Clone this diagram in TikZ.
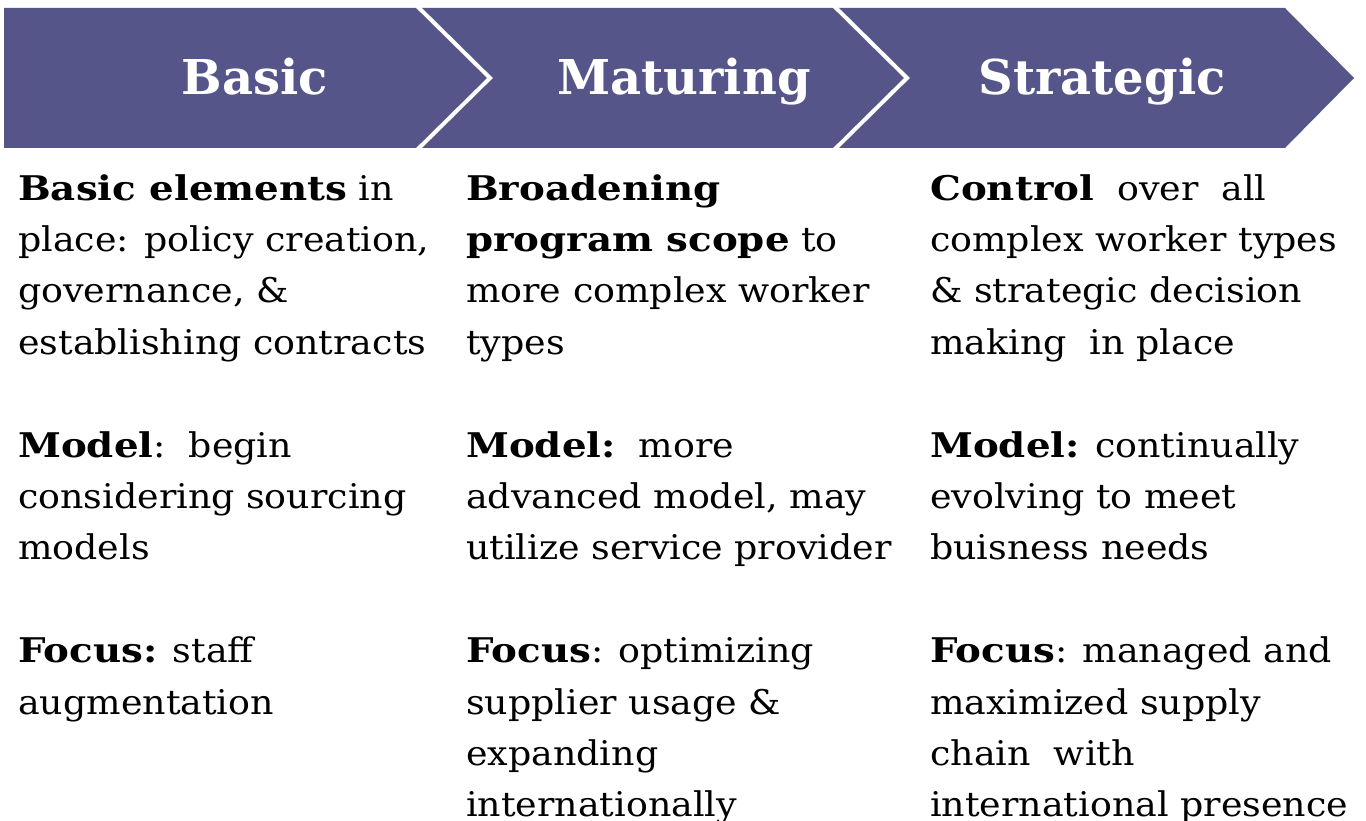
\documentclass[tikz,border=0pt]{standalone}
\usepackage{fontspec}
\setmainfont[FakeStretch=1.07,BoldFeatures={FakeStretch=1.14}]{DejaVu Serif}
\newfontfamily\titlefont{DejaVu Serif}
\definecolor{band}{RGB}{85,85,138}
\begin{document}
\begin{tikzpicture}[x=1pt,y=-1pt,
  title/.style={anchor=base, text=white, inner sep=0pt, font=\titlefont\fontsize{48}{58}\selectfont\bfseries},
  body/.style={anchor=base west, align=left, inner sep=0pt, font=\fontsize{34}{51.4}\selectfont},
  notch/.style={draw=white, line width=4pt}]
\useasboundingbox (0,0) rectangle (1366,821);
% band
\fill[band] (4,8) -- (1285,8) -- (1354,78) -- (1285,148) -- (4,148) -- cycle;
\draw[notch] (417,6) -- (490,78) -- (417,150);
\draw[notch] (834,6) -- (907,78) -- (834,150);
% titles
\node[title] (tb) at (255,95) {Basic};
\node[title] (tm) at (684,95) {Maturing};
\node[title] (ts) at (1102,95) {Strategic};
% column 1 (anchor = baseline of last line)
\node[body] (b1) at (18,354.2) {\textbf{Basic elements} in\\place: policy creation,\\governance, \&\\establishing contracts};
\node[body] (b2) at (18,559.8) {\textbf{Model}:\ \ begin\\considering sourcing\\models};
\node[body] (b3) at (18,714) {\textbf{Focus:} staff\\augmentation};
% column 2
\node[body] (m1) at (466,354.2) {\textbf{Broadening}\\\textbf{program scope} to\\more complex worker\\types};
\node[body] (m2) at (466,559.8) {\textbf{Model:}\ \ more\\advanced model, may\\utilize service provider};
\node[body] (m3) at (466,816.8) {\textbf{Focus}: optimizing\\supplier usage \&\\expanding\\internationally};
% column 3
\node[body] (s1) at (930,354.2) {\textbf{Control}\ \ over\ \ all\\complex worker types\\\& strategic decision\\making\ \ in place};
\node[body] (s2) at (930,559.8) {\textbf{Model:} continually\\evolving to meet\\buisness needs};
\node[body] (s3) at (930,816.8) {\textbf{Focus}: managed and\\maximized supply\\chain\ \ with\\international presence};
\end{tikzpicture}
\end{document}
